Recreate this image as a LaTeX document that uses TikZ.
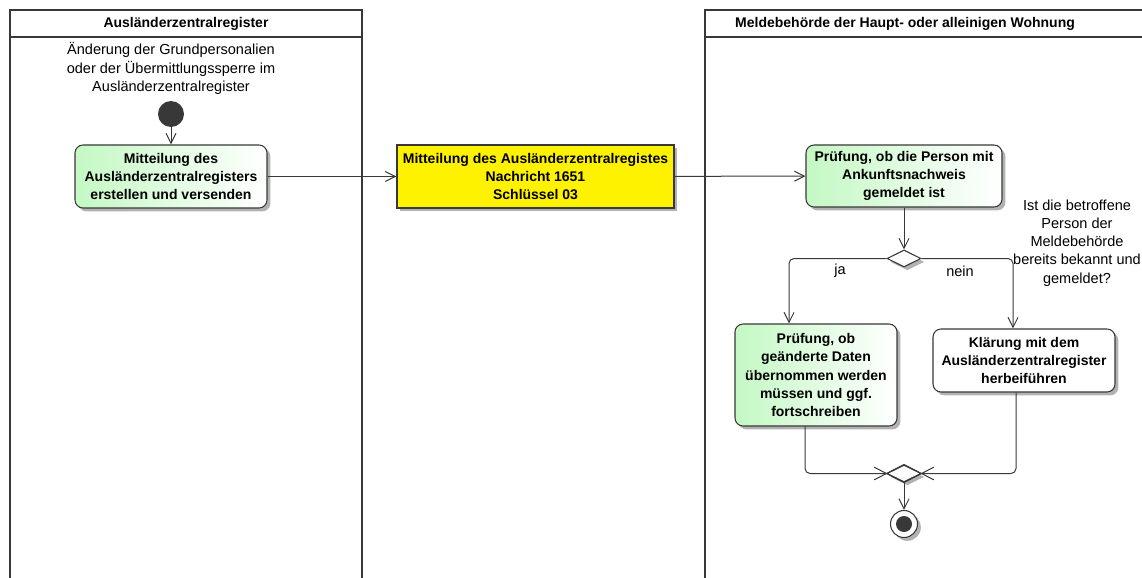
\documentclass[tikz,border=0pt]{standalone}
\usepackage{fontspec}
\setmainfont{Liberation Sans}
\usetikzlibrary{positioning,arrows.meta,shapes.geometric,shadows,calc}
\definecolor{umlline}{RGB}{56,56,56}
\definecolor{actgreen}{RGB}{196,248,196}

\begin{document}
\begin{tikzpicture}[x=0.75pt,y=-0.75pt,
  font=\fontsize{10.9}{13.6}\selectfont,
  lane/.style={draw=umlline,line width=1.4pt},
  lanetitle/.style={font=\fontsize{10.5}{13.6}\selectfont\bfseries,inner sep=0pt},
  shadowed/.style={drop shadow={shadow xshift=2.5pt,shadow yshift=-2.5pt,opacity=0.3,fill=black}},
  act/.style={rectangle,rounded corners=6pt,draw=umlline,line width=0.8pt,align=center,font=\fontsize{10.5}{13.6}\selectfont\bfseries,inner sep=0pt,shadowed},
  greenact/.style={act,left color=actgreen,right color=white},
  whiteact/.style={act,fill=white},
  msg/.style={rectangle,draw=umlline,line width=0.8pt,fill=yellow,align=center,font=\fontsize{10.5}{13.6}\selectfont\bfseries,inner sep=0pt,shadowed},
  decision/.style={diamond,draw=umlline,line width=0.8pt,fill=white,minimum width=25.5pt,minimum height=12.75pt,inner sep=0pt,shadowed},
  initial/.style={circle,fill=umlline,minimum size=19.5pt,inner sep=0pt},
  final/.style={circle,draw=umlline,line width=0.8pt,fill=white,minimum size=20.25pt,inner sep=0pt,shadowed,
    path picture={\fill[umlline] (path picture bounding box.center) circle (6pt);}},
  line/.style={draw=umlline,line width=0.75pt,rounded corners=3.75pt},
  arr/.style={line,-{Straight Barb[length=7.5pt,width=7.5pt]}}
]
\useasboundingbox (0,0) rectangle (1142,578);
% swimlanes
\draw[lane] (10,578) -- (10,10) -- (362,10) -- (362,578);
\draw[lane] (10,37) -- (362,37);
\draw[lane] (705,578) -- (705,10) -- (1150,10);
\draw[lane] (705,37) -- (1150,37);
\node[lanetitle] (azrlane) at (186,23.5) {Ausländerzentralregister};
\node[lanetitle] (mblane) at (905,23.5) {Meldebehörde der Haupt- oder alleinigen Wohnung};

\node[align=center] (anlass) at (171,68.5) {Änderung der Grundpersonalien\\oder der Übermittlungssperre im\\Ausländerzentralregister};
\node[initial] (start) at (171,114) {};
\node[greenact,minimum width=144pt,minimum height=47.25pt] (mitteilung) at (171,176.5) {Mitteilung des\\Ausländerzentralregisters\\erstellen und versenden};
\node[msg,minimum width=207.75pt,minimum height=47.25pt] (nachricht) at (535.5,176.5) {Mitteilung des Ausländerzentralregistes\\Nachricht 1651\\Schlüssel 03};
\node[greenact,minimum width=147pt,minimum height=46.5pt] (pruefung) at (904,176) {Prüfung, ob die Person mit\\Ankunftsnachweis\\gemeldet ist};
\node[decision] (frage) at (904,258.5) {};
\node[align=center] (bedingung) at (1077,243) {Ist die betroffene\\Person der\\Meldebehörde\\bereits bekannt und\\gemeldet?};
\node (ja) at (840,271) {ja};
\node (nein) at (960,271) {nein};
\node[greenact,minimum width=121.5pt,minimum height=76.5pt] (uebernahme) at (816,375) {Prüfung, ob\\geänderte Daten\\übernommen werden\\müssen und ggf.\\fortschreiben};
\node[whiteact,minimum width=136.5pt,minimum height=47.25pt] (klaerung) at (1024,360.5) {Klärung mit dem\\Ausländerzentralregister\\herbeiführen};
\node[decision] (zusammen) at (904,473.5) {};
\node[final] (ende) at (904,524) {};

% connectors
\draw[arr] (start) -- (mitteilung);
\draw[arr] (mitteilung) -- (nachricht);
\draw[arr] (nachricht) -- (pruefung);
\draw[arr] (pruefung) -- (frage);
\draw[arr] (frage.west) -| ([xshift=-20.25pt]uebernahme.north);
\draw[arr] (frage.east) -| ([xshift=-8.25pt]klaerung.north);
\draw[line] ([xshift=-8.25pt]uebernahme.south) |- (zusammen.west);
\draw[line] ([xshift=-6pt]klaerung.south) |- (zusammen.east);
\draw[line] (zusammen.north) -- ($(zusammen.north)!1.7!(zusammen.west)$);
\draw[line] (zusammen.south) -- ($(zusammen.south)!1.7!(zusammen.west)$);
\draw[line] (zusammen.north) -- ($(zusammen.north)!1.7!(zusammen.east)$);
\draw[line] (zusammen.south) -- ($(zusammen.south)!1.7!(zusammen.east)$);
\draw[arr] (zusammen) -- (ende);
\end{tikzpicture}
\end{document}
